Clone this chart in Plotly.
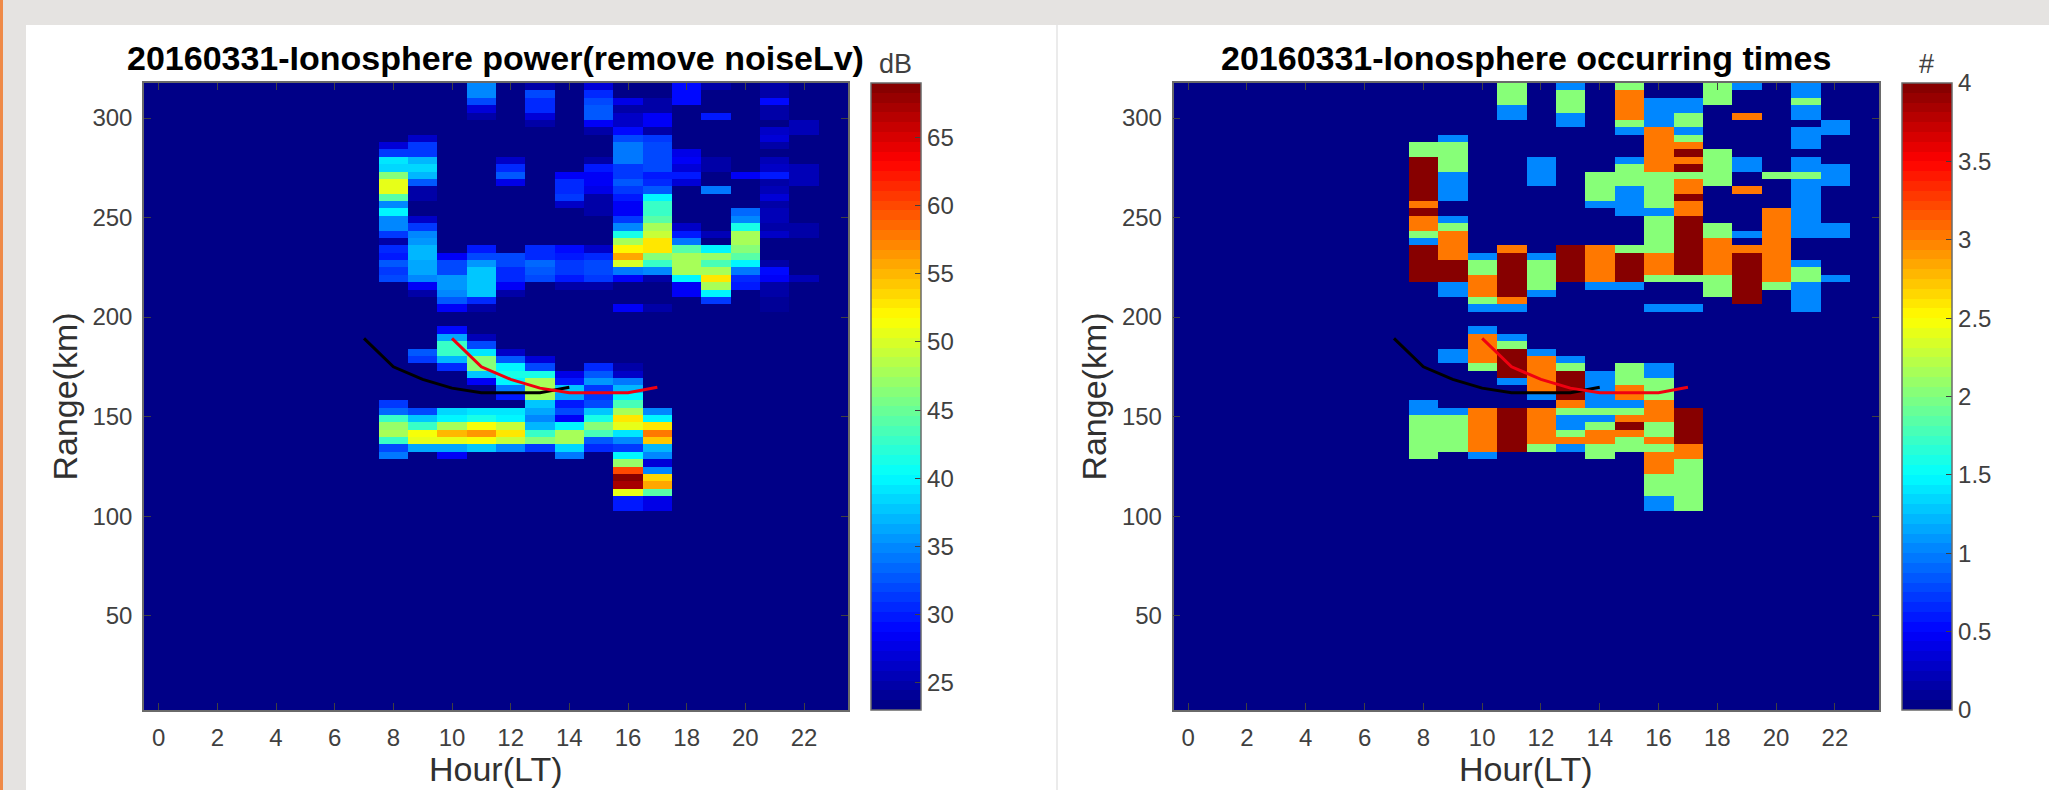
import plotly.graph_objects as go

# ---------- data ----------
hours = list(range(24))
n_rows = 85                 # range gates, counted from the top of the axis
range_top_km = 317.6
range_bottom_km = 2.6
hour_ticks = list(range(0, 24, 2))
range_ticks = [50, 100, 150, 200, 250, 300]
power_ticks = [25, 30, 35, 40, 45, 50, 55, 60, 65]
count_ticks = [0, 0.5, 1, 1.5, 2, 2.5, 3, 3.5, 4]
power_min, power_max = 23, 69
count_min, count_max = 0, 4

curve_hours_black = [7, 8, 9, 10, 11, 12, 13, 14]
curve_hours_red = [10, 11, 12, 13, 14, 15, 16, 17]
curve_km = [189.3, 175, 168.7, 164.3, 162, 162, 162, 164.7]

# occurrence counts per hour: (first gate, gate after last, count)
count_h08 = [(8,10,2),(10,16,4),(16,17,3),(17,18,4),(18,20,3),(20,21,2),(21,22,1),(22,27,4),(43,45,1),(45,51,2)]
count_h09 = [(7,8,1),(8,12,2),(12,16,1),(18,19,1),(19,20,2),(20,24,3),(24,27,4),(27,29,1),(36,38,1),(44,45,1),(45,50,2)]
count_h10 = [(23,24,1),(24,26,2),(26,29,3),(29,30,2),(30,31,1),(33,34,1),(34,38,3),(38,39,2),(44,50,3),(50,51,1)]
count_h11 = [(0,3,2),(3,5,1),(22,23,3),(23,29,4),(29,30,3),(30,31,1),(34,35,1),(35,36,2),(36,40,4),(40,41,1),(44,50,4)]
count_h12 = [(10,14,1),(23,24,1),(24,28,2),(28,29,1),(36,37,1),(37,42,3),(42,43,1),(44,49,3),(49,50,2)]
count_h13 = [(0,1,1),(1,4,2),(4,6,1),(22,27,4),(37,38,1),(38,39,2),(39,43,4),(43,44,3),(44,45,2),(45,47,1),(47,48,2),(48,49,3),(49,50,1)]
count_h14 = [(12,16,2),(16,17,1),(22,27,3),(27,28,1),(39,44,1),(44,45,2),(45,46,1),(46,47,2),(47,49,3),(49,51,2)]
count_h15 = [(0,1,2),(1,5,3),(5,6,2),(6,7,1),(10,11,1),(11,14,2),(14,18,1),(22,23,2),(23,27,4),(27,28,1),(38,41,2),(41,43,3),(43,44,1),(44,45,2),(45,46,3),(46,47,4),(47,48,3),(48,50,2)]
count_h16 = [(2,6,1),(6,12,3),(12,17,2),(17,18,1),(18,23,2),(23,26,3),(26,27,2),(30,31,1),(38,40,1),(40,43,2),(43,46,3),(46,48,2),(48,49,3),(49,50,2),(50,53,3),(53,56,2),(56,58,1)]
count_h17 = [(2,4,1),(4,6,2),(6,7,1),(7,8,2),(8,9,3),(9,10,4),(10,11,3),(11,12,4),(12,13,2),(13,15,3),(15,16,4),(16,18,3),(18,26,4),(26,27,2),(30,31,1),(44,49,4),(49,51,3),(51,58,2)]
count_h18 = [(0,3,2),(9,14,2),(19,21,2),(21,26,3),(26,29,2)]
count_h19 = [(0,1,1),(4,5,3),(10,12,1),(14,15,3),(20,21,1),(22,23,3),(23,30,4)]
count_h20 = [(12,13,2),(17,27,3),(27,28,2)]
count_h21 = [(0,2,1),(2,3,2),(3,5,1),(6,9,1),(10,12,1),(12,13,2),(13,21,1),(24,25,1),(25,27,2),(27,31,1)]
count_h22 = [(5,7,1),(11,14,1),(19,21,1),(26,27,1)]

# power in dB per hour: gate -> value
power_h08 = {8:27,9:31,10:39,11:38.5,12:46,13:51,14:51,15:44,16:35,17:40,18:35,19:35,20:31.5,21:24.5,22:30.5,23:30,24:33,25:31.5,26:32,
             43:31,44:33.5,45:43,46:47,47:48,48:43,49:32,50:34}
power_h09 = {7:26,8:31.5,9:31.5,10:37,11:38.5,12:37,13:33,14:24.5,15:24.5,18:26,19:31,20:34.5,21:35.5,22:37,23:37,24:36,25:36,26:35,27:28.5,28:25,
             36:33,37:31.5,44:32,45:37.5,46:43,47:51.5,48:50.5,49:36}
power_h10 = {23:28.5,24:32,25:32,26:35.5,27:35.5,28:35,29:33,30:28.5,33:29,34:36,35:43,36:43,37:37,38:30.5,
             44:38.5,45:40,46:48,47:55,48:50.5,49:36,50:28.5}
power_h11 = {0:35,1:35,2:32,3:27,4:25,22:29.5,23:32,24:35.5,25:37.5,26:38,27:38,28:38,29:30.5,30:25,
             34:25.5,35:32,36:39.5,37:46,38:46,39:38,40:28.5,44:39,45:41,46:51.5,47:56.5,48:51.5,49:38}
power_h12 = {10:26,11:30.5,12:33,13:28,23:32,24:32,25:30.5,26:30.5,27:28.5,28:25,
             36:26,37:33,38:40,39:41,40:40,41:34,42:29.5,44:39,45:40,46:49,47:53,48:49,49:35}
power_h13 = {0:25,1:32,2:30.5,3:30.5,4:27,5:25,22:30.5,23:30.5,24:33.5,25:33,26:32,
             37:27,38:32,39:41,40:47.5,41:47.5,42:47.5,43:37.5,44:36,45:35,46:37,47:43,48:46,49:31}
power_h14 = {12:28.5,13:30.5,14:30.5,15:31.5,16:26,22:29,23:29.5,24:31,25:31,26:29.5,27:25,
             39:27.5,40:30,41:38,42:36,43:30,44:32,45:28.5,46:40,47:48,48:48,49:38.5,50:34}
power_h15 = {0:27,1:30.5,2:32,3:33,4:33,5:28.5,6:25,10:25,11:29.5,12:28.5,13:28.5,14:28,15:25,16:25,17:25,22:26.5,23:30.5,24:32,25:32,26:31,27:25,
             38:30.5,39:33,40:35.5,41:31.5,42:31.5,43:32,44:38,45:41.5,46:46,47:43.5,48:33,49:30.5}
power_h16 = {2:28,3:25,4:26.5,5:26.5,6:29,7:32,8:34,9:34,10:34,11:31,12:31,13:33,14:31,15:30,16:28.5,17:28.5,18:31.5,19:35,20:41.5,21:48,22:52,23:56,24:50,25:34,26:28.5,30:28.5,
             38:25,39:26.5,40:34,41:37,42:40,43:43.5,44:48,45:53,46:51,47:39.5,48:35,49:31,50:40,51:47,52:60,53:68.5,54:67,55:50.5,56:30,57:30}
power_h17 = {2:25,3:25,4:28.5,5:28.5,6:24.5,7:31,8:32,9:32,10:32,11:32,12:29.5,13:30.5,14:33,15:40,16:43,17:43,18:44.5,19:48,20:49.5,21:53,22:53,23:46,24:42.5,25:35,26:25,30:25,
             44:35,45:40,46:53,47:58,48:54.5,49:37,50:35,51:27,52:35,53:53.5,54:56,55:44,56:27.5,57:27.5}
power_h18 = {0:29,1:29,2:29,9:27.5,10:28.5,11:27,12:29.5,13:27,19:26.5,20:30,21:34,22:44,23:48,24:48,25:48,26:40,27:28.5,28:28.5}
power_h19 = {0:25,4:30,10:25,11:25,14:34,20:25.5,22:40,23:47,24:43.5,25:48,26:53,27:48,28:40,29:31.5}
power_h20 = {12:28.5,17:33.5,18:35,19:41,20:48,21:48,22:46,23:44,24:40,25:34,26:30.5,27:30}
power_h21 = {0:25,1:25,2:29,3:25,4:25,6:26,7:27,8:25,10:25.5,11:26.5,12:30,13:25,14:25.5,15:27,16:24.5,17:25.5,18:25.5,19:25,20:26.5,24:25,25:29,26:28.5,27:25,28:24.5,29:24,30:24}
power_h22 = {5:25.5,6:25.5,11:25.5,12:25.5,13:25.5,19:25,20:25,26:25.5}

power_by_hour = {8:power_h08,9:power_h09,10:power_h10,11:power_h11,12:power_h12,13:power_h13,14:power_h14,15:power_h15,
                 16:power_h16,17:power_h17,18:power_h18,19:power_h19,20:power_h20,21:power_h21,22:power_h22}
count_by_hour = {8:count_h08,9:count_h09,10:count_h10,11:count_h11,12:count_h12,13:count_h13,14:count_h14,15:count_h15,
                 16:count_h16,17:count_h17,18:count_h18,19:count_h19,20:count_h20,21:count_h21,22:count_h22}

# ---------- grids ----------
gate_km = (range_top_km - range_bottom_km) / n_rows
range_km = [range_top_km - (k + 0.5) * gate_km for k in range(n_rows)]
power_z = [[power_min] * len(hours) for _ in range(n_rows)]
count_z = [[count_min] * len(hours) for _ in range(n_rows)]
for h, gates in power_by_hour.items():
    for k, v in gates.items():
        power_z[k][h] = v
for h, runs in count_by_hour.items():
    for a, b, v in runs:
        for k in range(a, b):
            count_z[k][h] = v


def jet_stepped(n=64):
    def c(x):
        r = min(max(min(4 * x - 1.5, -4 * x + 4.5), 0), 1)
        g = min(max(min(4 * x - 0.5, -4 * x + 3.5), 0), 1)
        b = min(max(min(4 * x + 0.5, -4 * x + 2.5), 0), 1)
        return f"rgb({round(r*255)},{round(g*255)},{round(b*255)})"
    scale = []
    for i in range(n):
        col = c((i + 0.5) / n)
        scale.append([i / n, col])
        scale.append([(i + 1) / n, col])
    return scale


JET = jet_stepped()
W, H = 2049, 790
FONT = "Liberation Sans, Arial, sans-serif"
TICKC = "#404040"
FRAME = "#6a6a6a"


def px(x):
    return x / W


def py(y):
    return 1 - y / H


fig = go.Figure()
panels = [
    dict(ax="", x0=144, x1=848, cb0=871, z=power_z, zmin=power_min, zmax=power_max, ticks=power_ticks),
    dict(ax="2", x0=1173.5, x1=1879, cb0=1902, z=count_z, zmin=count_min, zmax=count_max, ticks=count_ticks),
]
for p in panels:
    fig.add_trace(go.Heatmap(
        x=hours, y=range_km, z=p["z"], zmin=p["zmin"], zmax=p["zmax"], colorscale=JET, zsmooth=False,
        xaxis="x" + p["ax"], yaxis="y" + p["ax"], hoverongaps=False,
        colorbar=dict(
            x=px(p["cb0"]), xanchor="left", xpad=0, y=py(710), yanchor="bottom", ypad=0,
            lenmode="pixels", len=627, thicknessmode="pixels", thickness=50,
            tickmode="array", tickvals=p["ticks"], ticktext=[str(t) for t in p["ticks"]],
            ticks="inside", ticklen=6, tickcolor=TICKC, tickwidth=1,
            tickfont=dict(family=FONT, size=24, color=TICKC),
            outlinecolor=FRAME, outlinewidth=1.5, ticklabelposition="outside",
        ),
    ))
    fig.add_trace(go.Scatter(x=curve_hours_black, y=curve_km, mode="lines", showlegend=False,
                             line=dict(color="black", width=3), xaxis="x" + p["ax"], yaxis="y" + p["ax"]))
    fig.add_trace(go.Scatter(x=curve_hours_red, y=curve_km, mode="lines", showlegend=False,
                             line=dict(color="#f00010", width=3), xaxis="x" + p["ax"], yaxis="y" + p["ax"]))

axis_common = dict(showgrid=False, zeroline=False, ticks="inside", ticklen=7, tickwidth=1, tickcolor=TICKC,
                   showline=True, linecolor=FRAME, linewidth=1.5, mirror="allticks",
                   tickfont=dict(family=FONT, size=24, color=TICKC))

title_font = dict(family=FONT, size=34, color="#303030")
for p in panels:
    xa = dict(axis_common, domain=[px(p["x0"]), px(p["x1"])], range=[-0.5, 23.5], tickmode="array",
              tickvals=hour_ticks, anchor="y" + p["ax"], ticklabelstandoff=5)
    ya = dict(axis_common, domain=[py(710), py(83)], range=[range_bottom_km, range_top_km], tickmode="array",
              tickvals=range_ticks, anchor="x" + p["ax"], ticklabelstandoff=5,
              title=dict(text="Range(km)", font=title_font, standoff=5))
    fig.layout["xaxis" + p["ax"]] = xa
    fig.layout["yaxis" + p["ax"]] = ya

bold = dict(family=FONT, size=34, color="black")
unit = dict(family=FONT, size=27, color=TICKC)
annotations = [
    dict(text="<b>20160331-Ionosphere power(remove noiseLv)</b>", x=px(495), y=py(72), font=bold, yshift=-7),
    dict(text="<b>20160331-Ionosphere occurring times</b>", x=px(1526), y=py(72), font=bold, yshift=-7),
    dict(text="dB", x=px(895), y=py(74), font=unit, yshift=-7),
    dict(text="#", x=px(1926), y=py(74), font=unit, yshift=-7),
    dict(text="Hour(LT)", x=px(496), y=py(790), font=title_font),
    dict(text="Hour(LT)", x=px(1526), y=py(790), font=title_font),
]
for a in annotations:
    a.update(xref="paper", yref="paper", xanchor="center", yanchor="bottom", showarrow=False)

shapes = [
    dict(type="rect", xref="paper", yref="paper", x0=0, x1=px(3), y0=0, y1=1, fillcolor="#ef8a48", line_width=0, layer="below"),
    dict(type="rect", xref="paper", yref="paper", x0=px(26), x1=1, y0=0, y1=py(25), fillcolor="white", line_width=0, layer="below"),
    dict(type="line", xref="paper", yref="paper", x0=px(1057), x1=px(1057), y0=0, y1=py(25), line=dict(color="#e4e4e4", width=1.5), layer="below"),
]

fig.update_layout(width=W, height=H, margin=dict(l=0, r=0, t=0, b=0), autosize=False,
                  paper_bgcolor="#e5e3e1", plot_bgcolor="#00008f", showlegend=False,
                  annotations=annotations, shapes=shapes)

fig.write_html("out.html", post_script="document.body.style.margin='0';document.body.style.overflow='hidden';",
               config=dict(displayModeBar=False))
